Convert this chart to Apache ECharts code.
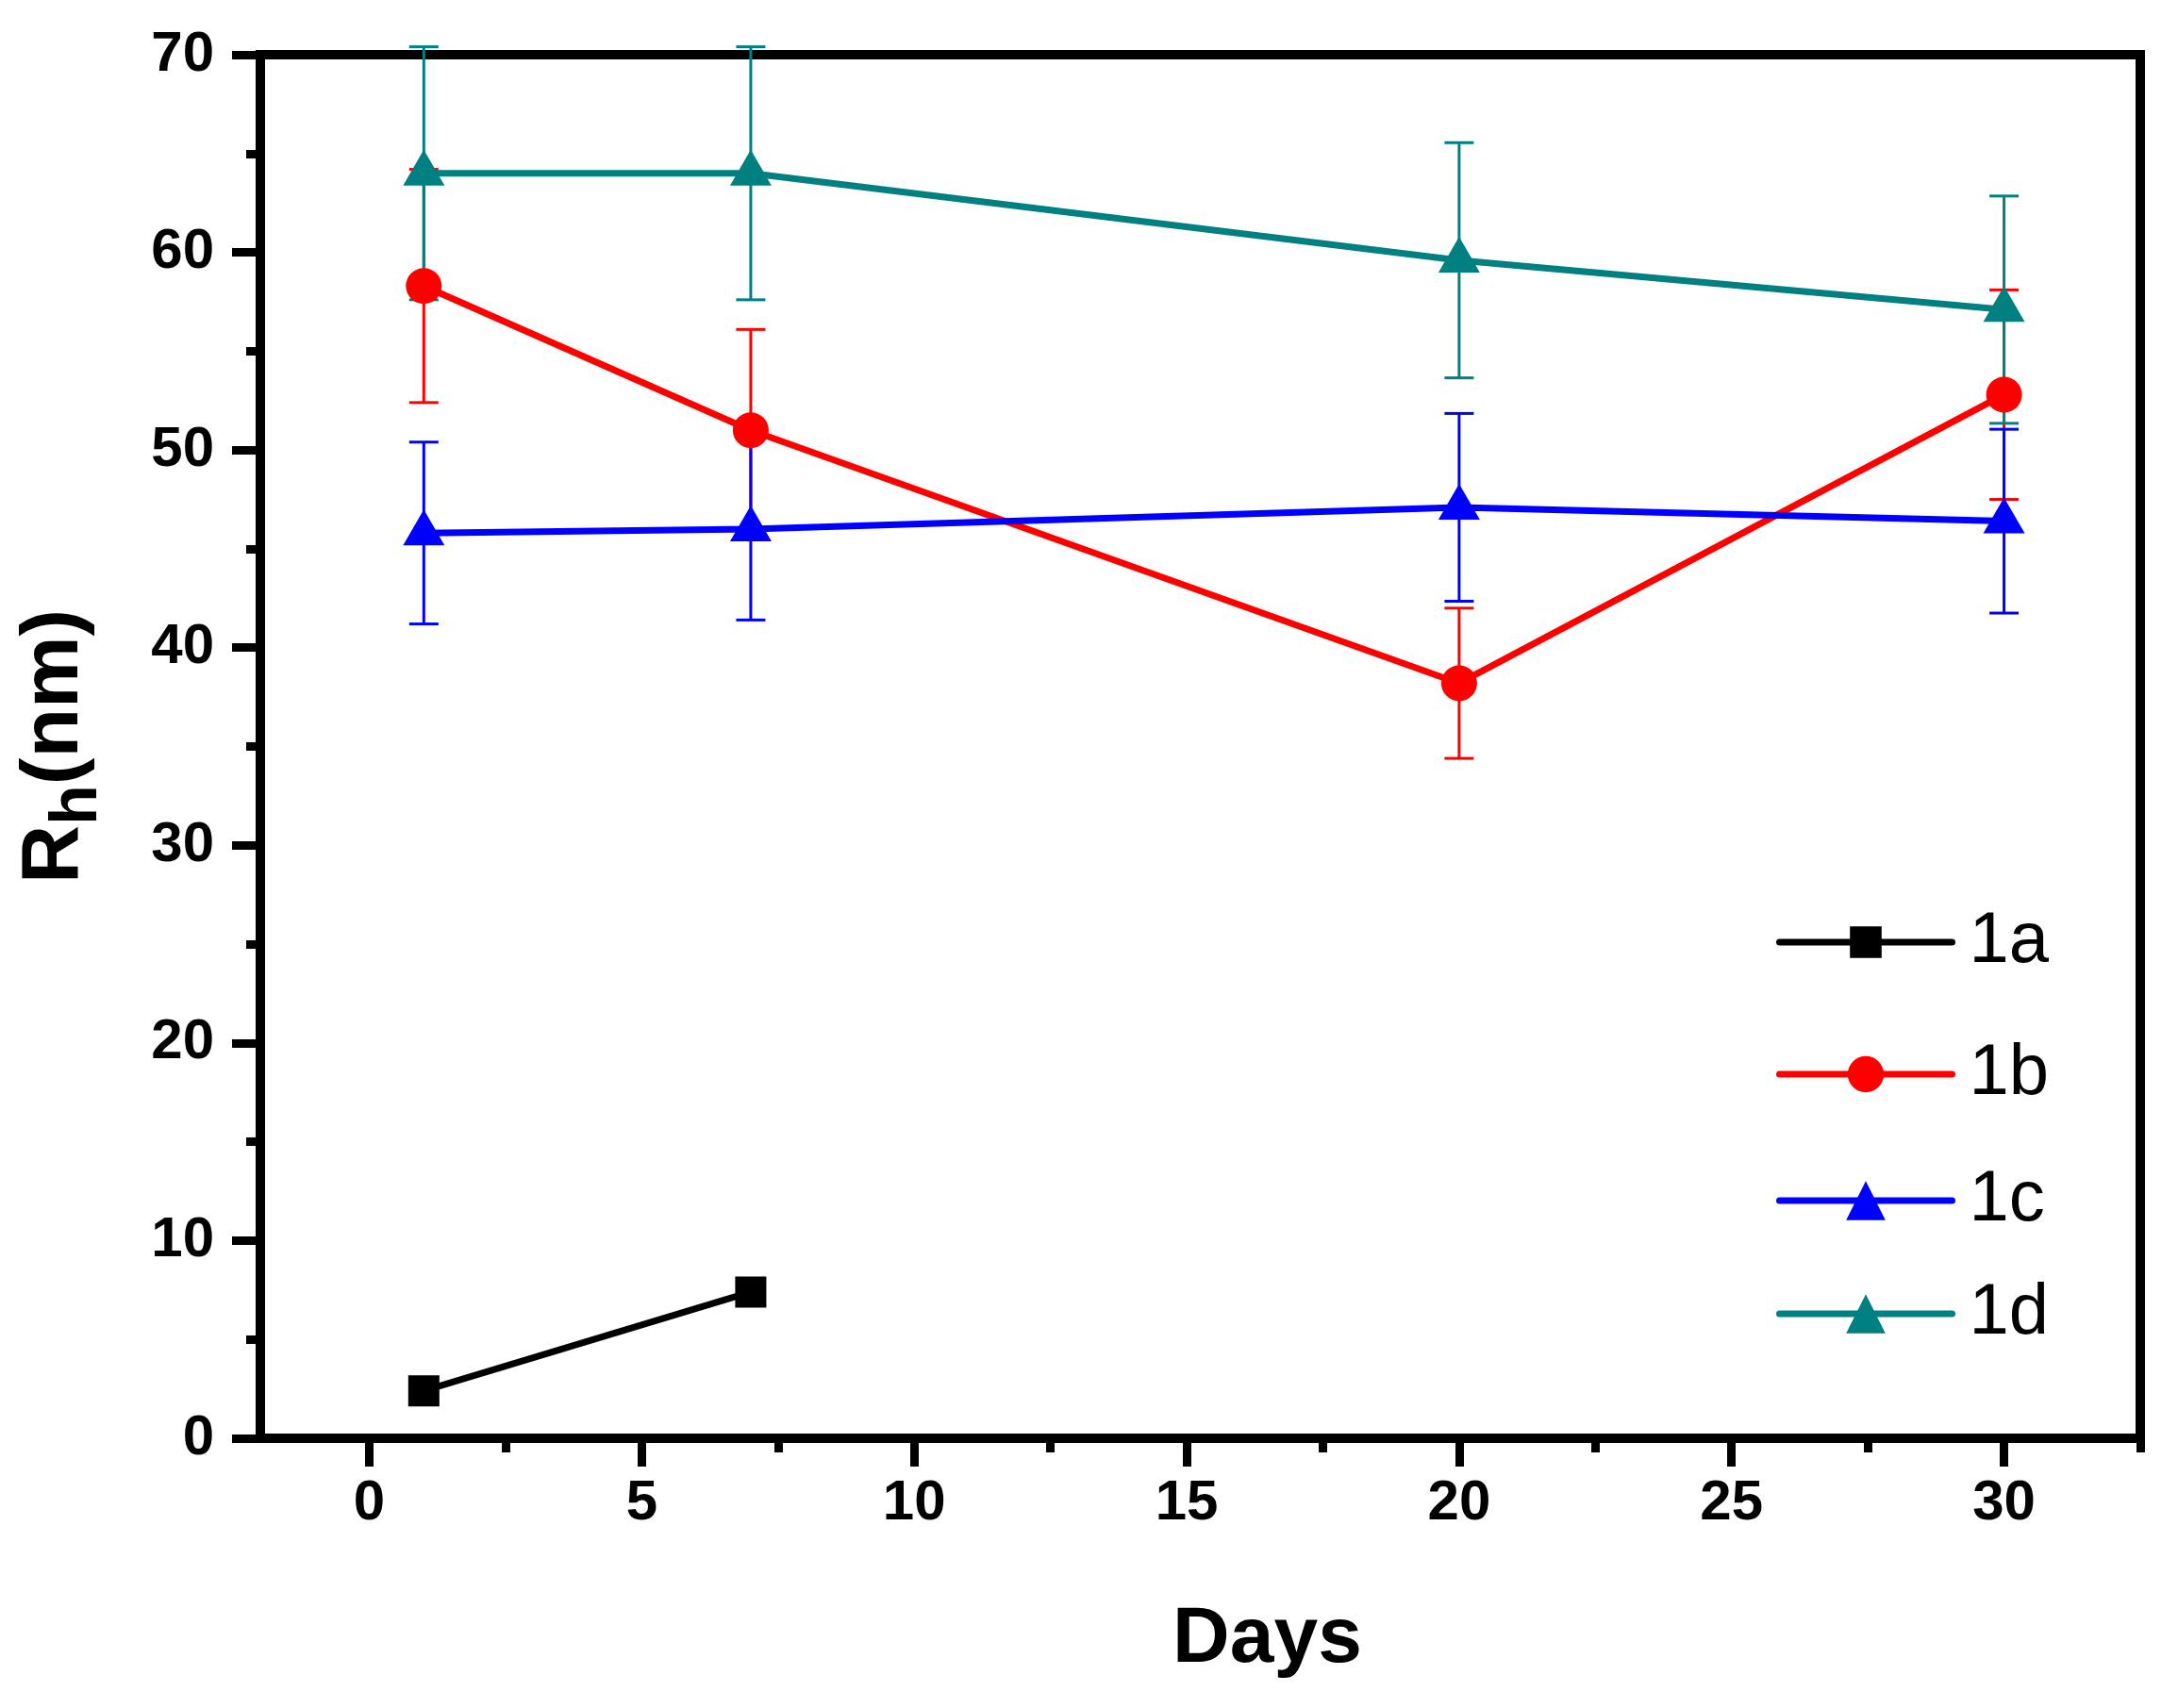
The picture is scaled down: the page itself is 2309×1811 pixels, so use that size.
<!DOCTYPE html>
<html>
<head>
<meta charset="utf-8">
<script src="https://cdn.jsdelivr.net/npm/echarts@6/dist/echarts.min.js"></script>
<style>html,body{margin:0;padding:0;background:#fff;}#c{width:2309px;height:1811px;}</style>
</head>
<body>
<div id="c"></div>
<script>
// ---- data ----
var daysA = [1, 7];
var days = [1, 7, 20, 30];
var val1a = [2.4, 7.4];
var val1b = [58.3, 51.0, 38.2, 52.8];
var err1b = [5.9, 5.1, 3.8, 5.3];
var val1c = [45.8, 46.0, 47.1, 46.4];
var err1c = [4.6, 4.6, 4.75, 4.65];
var val1d = [64.0, 64.0, 59.6, 57.1];
var err1d = [6.4, 6.4, 5.95, 5.75];
var xMajorTicks = [0, 5, 10, 15, 20, 25, 30];
var xMinorTicks = [2.5, 7.5, 12.5, 17.5, 22.5, 27.5, 32.5];
var seriesNames = ['1a', '1b', '1c', '1d'];

var FONT = 'Liberation Sans, Arial, sans-serif';
var colors = ['#000000', '#ff0000', '#0000ff', '#008080'];

function pairs(xs, ys) { return xs.map(function (x, i) { return [x, ys[i]]; }); }
function errData(xs, ys, es) { return xs.map(function (x, i) { return [x, ys[i], es[i]]; }); }

function errSeries(name, color, data) {
  return {
    type: 'custom',
    name: name + ' err',
    xAxisIndex: 0, yAxisIndex: 0,
    data: data,
    z: 2,
    silent: true,
    renderItem: function (params, api) {
      var x = api.value(0), y = api.value(1), e = api.value(2);
      var top = api.coord([x, y + e]);
      var bot = api.coord([x, y - e]);
      var hw = 15.5;
      var st = { stroke: color, lineWidth: 3 };
      return {
        type: 'group',
        children: [
          { type: 'line', shape: { x1: top[0], y1: top[1], x2: bot[0], y2: bot[1] }, style: st },
          { type: 'line', shape: { x1: top[0] - hw, y1: top[1], x2: top[0] + hw, y2: top[1] }, style: st },
          { type: 'line', shape: { x1: bot[0] - hw, y1: bot[1], x2: bot[0] + hw, y2: bot[1] }, style: st }
        ]
      };
    }
  };
}

function lineSeries(name, color, data, symbol, size, offset) {
  return {
    type: 'line',
    name: name,
    data: data,
    symbol: symbol,
    symbolSize: size,
    symbolOffset: offset || [0, 0],
    showAllSymbol: true,
    z: 3,
    lineStyle: { color: color, width: 7 },
    itemStyle: { color: color, opacity: 1 },
    emphasis: { disabled: true },
    animation: false
  };
}

var legendTops = [956, 1096, 1230, 1350];
var legendItemH = [42, 48, 52, 52];
var legends = seriesNames.map(function (n, i) {
  return {
    data: [n],
    left: 1878,
    top: legendTops[i],
    orient: 'vertical',
    itemWidth: 183,
    itemHeight: legendItemH[i],
    selectedMode: false,
    lineStyle: { width: 7, cap: 'round' },
    textStyle: { fontFamily: FONT, fontSize: 76, color: '#000', padding: [0, 0, 0, 13] }
  };
});

var chart = echarts.init(document.getElementById('c'), null, { renderer: 'canvas' });
chart.setOption({
  backgroundColor: '#ffffff',
  animation: false,
  legend: legends,
  grid: {
    left: 276, right: 40, top: 58, bottom: 286,
    show: true, borderColor: '#000', borderWidth: 10, backgroundColor: 'transparent'
  },
  xAxis: [{
    type: 'value', min: -2, max: 32.5,
    name: 'Days', nameLocation: 'middle', nameGap: 172,
    nameTextStyle: { fontFamily: FONT, fontSize: 84, fontWeight: 'bold', color: '#000', padding: [0, 0, 0, 142] },
    axisLine: { show: true, onZero: false, lineStyle: { color: '#000', width: 10 } },
    axisTick: { show: true, customValues: xMajorTicks, length: 30, inside: false, lineStyle: { color: '#000', width: 9 } },
    axisLabel: { show: true, customValues: xMajorTicks, margin: 39, fontFamily: FONT, fontSize: 60, fontWeight: 'bold', color: '#000' },
    splitLine: { show: false }
  }, {
    type: 'value', min: -2, max: 32.5, position: 'bottom', offset: 0,
    axisLine: { show: false, onZero: false },
    axisTick: { show: true, customValues: xMinorTicks, length: 15, inside: false, lineStyle: { color: '#000', width: 9 } },
    axisLabel: { show: false },
    splitLine: { show: false }
  }],
  yAxis: [{
    type: 'value', min: 0, max: 70, interval: 10,
    name: '{a|R}{b|h}{a|(nm)}', nameLocation: 'middle', nameGap: 158, nameRotate: 90,
    nameTextStyle: {
      fontFamily: FONT, fontWeight: 'bold', color: '#000',
      rich: {
        a: { fontFamily: FONT, fontSize: 86, fontWeight: 'bold', color: '#000', lineHeight: 120, verticalAlign: 'middle' },
        b: { fontFamily: FONT, fontSize: 70, fontWeight: 'bold', color: '#000', lineHeight: 69, verticalAlign: 'bottom' }
      }
    },
    axisLine: { show: true, onZero: false, lineStyle: { color: '#000', width: 10 } },
    axisTick: { show: true, length: 30, inside: false, lineStyle: { color: '#000', width: 9 } },
    minorTick: { show: true, splitNumber: 2, length: 15, lineStyle: { color: '#000', width: 9 } },
    axisLabel: { margin: 49, fontFamily: FONT, fontSize: 60, fontWeight: 'bold', color: '#000' },
    splitLine: { show: false },
    minorSplitLine: { show: false }
  }],
  series: [
    lineSeries('1a', colors[0], pairs(daysA, val1a), 'rect', 33),
    errSeries('1b', colors[1], errData(days, val1b, err1b)),
    lineSeries('1b', colors[1], pairs(days, val1b), 'circle', 38),
    errSeries('1c', colors[2], errData(days, val1c, err1c)),
    lineSeries('1c', colors[2], pairs(days, val1c), 'triangle', [44, 38], [0, -6]),
    errSeries('1d', colors[3], errData(days, val1d, err1d)),
    lineSeries('1d', colors[3], pairs(days, val1d), 'triangle', [44, 38], [0, -6])
  ]
});
</script>
</body>
</html>
